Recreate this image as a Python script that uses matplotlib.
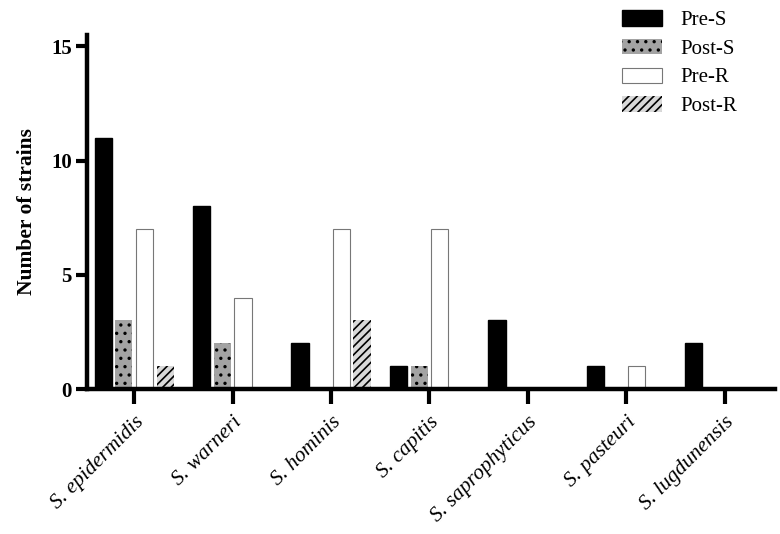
import numpy as np
import matplotlib
matplotlib.use('Agg')
import matplotlib.pyplot as plt

plt.rcParams['font.family'] = ['Liberation Serif', 'DejaVu Serif']
plt.rcParams['hatch.linewidth'] = 1.2

# Species and strain counts per group
species = ['S. epidermidis', 'S. warneri', 'S. hominis', 'S. capitis',
           'S. saprophyticus', 'S. pasteuri', 'S. lugdunensis']
pre_s = [11, 8, 2, 1, 3, 1, 2]
post_s = [3, 2, 0, 1, 0, 0, 0]
pre_r = [7, 4, 7, 7, 0, 1, 0]
post_r = [1, 0, 3, 0, 0, 0, 0]

series = [
    ('Pre-S', pre_s, dict(color='black', edgecolor='black')),
    ('Post-S', post_s, dict(color='#a3a3a3', edgecolor='black', hatch='..', linewidth=0)),
    ('Pre-R', pre_r, dict(color='white', edgecolor='#777777', linewidth=0.8)),
    ('Post-R', post_r, dict(color='#d9d9d9', edgecolor='black', hatch='////', linewidth=0)),
]

fig = plt.figure(figsize=(7.8, 5.34), dpi=100)
ax = fig.add_axes([0.1115, 0.2715, 0.882, 0.663])

x = np.arange(len(species))
width = 0.175
step = 0.21
handles = []
for i, (name, vals, style) in enumerate(series):
    offs = (i - 1.5) * step
    vals = np.array(vals, dtype=float)
    # zero bars are not drawn
    mask = vals > 0
    b = ax.bar(x[mask] + offs, vals[mask], width, label=name, **style)
    handles.append(b)

ax.set_xlim(-0.48, 6.51)
ax.set_ylim(0, 15.5)
ax.set_yticks([0, 5, 10, 15])
ax.set_xticks(x)
ax.set_xticklabels(species, rotation=45, ha='right', rotation_mode='anchor',
                   fontstyle='italic', fontsize=15.5)
for lab in ax.get_yticklabels():
    lab.set_fontweight('bold')
ax.tick_params(axis='y', labelsize=15, width=3, length=8, pad=3)
ax.tick_params(axis='x', width=3, length=11, pad=6)
ax.set_ylabel('Number of strains', fontsize=15.5, fontweight='bold', labelpad=10)

for s in ['top', 'right']:
    ax.spines[s].set_visible(False)
for s in ['left', 'bottom']:
    ax.spines[s].set_linewidth(3.2)

fig.legend(handles=handles, loc='upper left', bbox_to_anchor=(0.779, 1.008),
           frameon=False, fontsize=15, handlelength=1.9, handleheight=0.75,
           labelspacing=0.42, handletextpad=0.9, borderpad=0.2)

fig.savefig('out.png', dpi=100)
